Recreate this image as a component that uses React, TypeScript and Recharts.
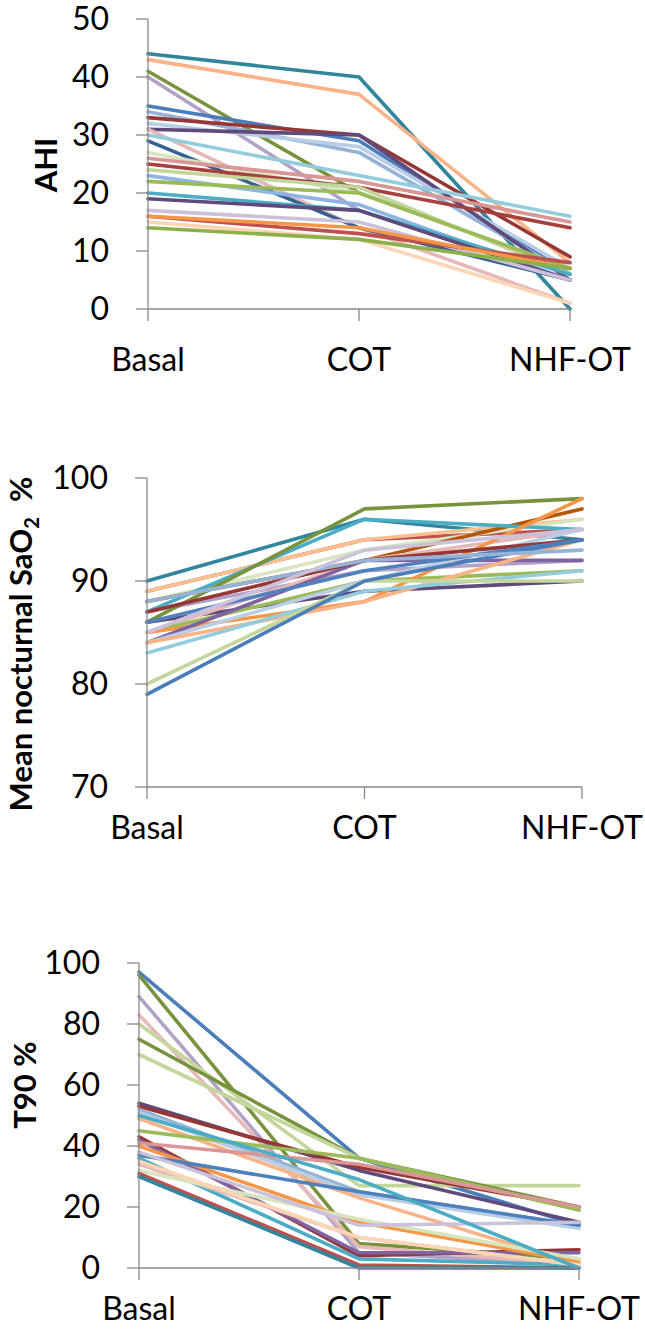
import React from 'react';
import { LineChart, Line, XAxis, YAxis } from 'recharts';

const categories = ['Basal', 'COT', 'NHF-OT'];

const ahiTicks = [0, 10, 20, 30, 40, 50];
const sao2Ticks = [70, 80, 90, 100];
const t90Ticks = [0, 20, 40, 60, 80, 100];

// one row per patient: [Basal, COT, NHF-OT]
const ahiSeries = [
  [44, 40, 0], [43, 37, 8], [41, 20, 7], [40, 17, 5], [35, 29, 6],
  [34, 27, 6], [33, 30, 9], [32, 28, 7], [31, 30, 5], [31, 14, 1],
  [30, 23, 16], [29, 14, 5], [27, 20, 7], [26, 22, 15], [25, 21, 14],
  [24, 21, 6], [23, 18, 5], [22, 20, 7], [20, 17, 6], [19, 17, 5],
  [17, 15, 5], [16, 13, 8], [16, 14, 7], [15, 12, 1], [14, 12, 7],
];

const sao2Series = [
  [90, 96, 94], [89, 94, 95], [89, 94, 96], [88, 93, 96], [88, 92, 97],
  [87, 96, 95], [87, 91, 92], [86, 97, 98], [86, 89, 90], [85, 92, 95],
  [85, 90, 91], [85, 88, 98], [84, 92, 92], [84, 90, 95], [84, 88, 94],
  [83, 89, 91], [87, 92, 94], [86, 91, 94], [80, 90, 90], [79, 90, 94],
  [88, 92, 93], [85, 93, 95],
];

const t90Series = [
  [97, 36, 14], [96, 8, 3], [89, 5, 1], [83, 7, 1], [80, 27, 27],
  [75, 36, 20], [70, 36, 19], [54, 32, 15], [53, 33, 20], [52, 25, 14],
  [51, 24, 13], [49, 23, 1], [45, 36, 19], [43, 4, 6], [42, 5, 5],
  [41, 34, 20], [40, 15, 2], [37, 25, 14], [36, 3, 1], [34, 10, 1],
  [32, 16, 3], [31, 1, 0], [30, 0, 0], [35, 10, 1], [38, 14, 15],
  [50, 29, 0],
];

const ahiColors = [
  '#31859C', '#F9B387', '#77933C', '#B3A2C7', '#4A7EBB',
  '#95B3D7', '#953735', '#B9CDE5', '#604A7B', '#E6B9B8',
  '#93CDDD', '#376092', '#D7E4BD', '#D99694', '#A5403D',
  '#C3D69B', '#8EB4E3', '#9BBB59', '#4BACC6', '#5F4A7B',
  '#CCC1DA', '#C0504D', '#F79646', '#FCD5B5', '#8DB04A',
];

const sao2Colors = [
  '#31859C', '#C0504D', '#FAC090', '#D7E4BD', '#B65708',
  '#4BACC6', '#B3A2C7', '#77933C', '#604A7B', '#E6B9B8',
  '#9BBB59', '#F79646', '#8064A2', '#B9CDE5', '#F9B387',
  '#93CDDD', '#953735', '#4F81BD', '#C3D69B', '#4A7EBB',
  '#95B3D7', '#CCC1DA',
];

const t90Colors = [
  '#4A7EBB', '#77933C', '#B3A2C7', '#E6B9B8', '#C3D69B',
  '#76923C', '#C3D69B', '#604A7B', '#953735', '#95B3D7',
  '#B9CDE5', '#F9B387', '#9BBB59', '#943634', '#8064A2',
  '#D99694', '#F79646', '#4F81BD', '#4BACC6', '#E6B9B8',
  '#D7E4BD', '#C0504D', '#31859C', '#FCD5B5', '#CCC1DA',
  '#4BACC6',
];

const AXIS = '#898989';
const FONT = 'Lato, "Open Sans", sans-serif';

const buildRows = (series: number[][]) =>
  categories.map((name, i) => {
    const row: any = { name };
    series.forEach((s, k) => {
      row[`p${k}`] = s[i];
    });
    return row;
  });

const YTitle = ({ px, py, children }: any) => (
  <text
    x={px}
    y={py}
    transform={`rotate(-90, ${px}, ${py})`}
    textAnchor="middle"
    dy="0.36em"
    fontFamily={FONT}
    fontWeight={700}
    fontSize={31}
    fill="#000"
  >
    {children}
  </text>
);

interface PanelProps {
  top: number;
  height: number;
  margin: { top: number; right: number; bottom: number; left: number };
  xHeight: number;
  xTickMargin: number;
  series: number[][];
  colors: string[];
  domain: [number, number];
  ticks: number[];
  title: React.ReactElement;
}

const Panel: React.FC<PanelProps> = ({
  top, height, margin, xHeight, xTickMargin, series, colors, domain, ticks, title,
}) => {
  const rows = buildRows(series);
  return (
    <div style={{ position: 'absolute', left: 0, top }}>
      <LineChart width={645} height={height} data={rows} margin={margin} style={{ overflow: 'visible' }}>
        <XAxis
          dataKey="name"
          height={xHeight}
          interval={0}
          tickSize={12}
          tickMargin={xTickMargin}
          axisLine={{ stroke: AXIS, strokeWidth: 1.3 }}
          tickLine={{ stroke: AXIS, strokeWidth: 1.3 }}
          tick={{ fontSize: 32, fontFamily: FONT, fill: '#000' }}
        />
        <YAxis
          type="number"
          domain={domain}
          ticks={ticks}
          interval={0}
          width={60}
          tickSize={12}
          tickMargin={27}
          axisLine={{ stroke: AXIS, strokeWidth: 1.3 }}
          tickLine={{ stroke: AXIS, strokeWidth: 1.3 }}
          tick={{ fontSize: 32, fontFamily: FONT, fill: '#000' }}
          label={title}
        />
        {series.map((_, k) => (
          <Line
            key={k}
            type="linear"
            dataKey={`p${k}`}
            stroke={colors[k % colors.length]}
            strokeWidth={3.6}
            strokeLinecap="round"
            strokeLinejoin="round"
            dot={false}
            activeDot={false}
            isAnimationActive={false}
          />
        ))}
      </LineChart>
    </div>
  );
};

export default function App() {
  return (
    <div style={{ position: 'absolute', left: 0, top: 0, width: 645, height: 1333, background: '#fff' }}>
      <Panel
        top={0}
        height={380}
        margin={{ top: 19, right: 75, bottom: 11, left: 88 }}
        xHeight={60}
        xTickMargin={27}
        series={ahiSeries}
        colors={ahiColors}
        domain={[0, 50]}
        ticks={ahiTicks}
        title={<YTitle px={46} py={165}>AHI</YTitle>}
      />
      <Panel
        top={440}
        height={420}
        margin={{ top: 38, right: 63, bottom: 13, left: 87 }}
        xHeight={60}
        xTickMargin={17}
        series={sao2Series}
        colors={sao2Colors}
        domain={[70, 100]}
        ticks={sao2Ticks}
        title={
          <YTitle px={21} py={204}>
            Mean nocturnal SaO
            <tspan dy={7} fontSize={20}>2</tspan>
            <tspan dy={-7}>{'\u00A0 %'}</tspan>
          </YTitle>
        }
      />
      <Panel
        top={940}
        height={393}
        margin={{ top: 23, right: 66, bottom: 15, left: 79 }}
        xHeight={50}
        xTickMargin={17}
        series={t90Series}
        colors={t90Colors}
        domain={[0, 100]}
        ticks={t90Ticks}
        title={<YTitle px={25} py={145}>T90 %</YTitle>}
      />
    </div>
  );
}
